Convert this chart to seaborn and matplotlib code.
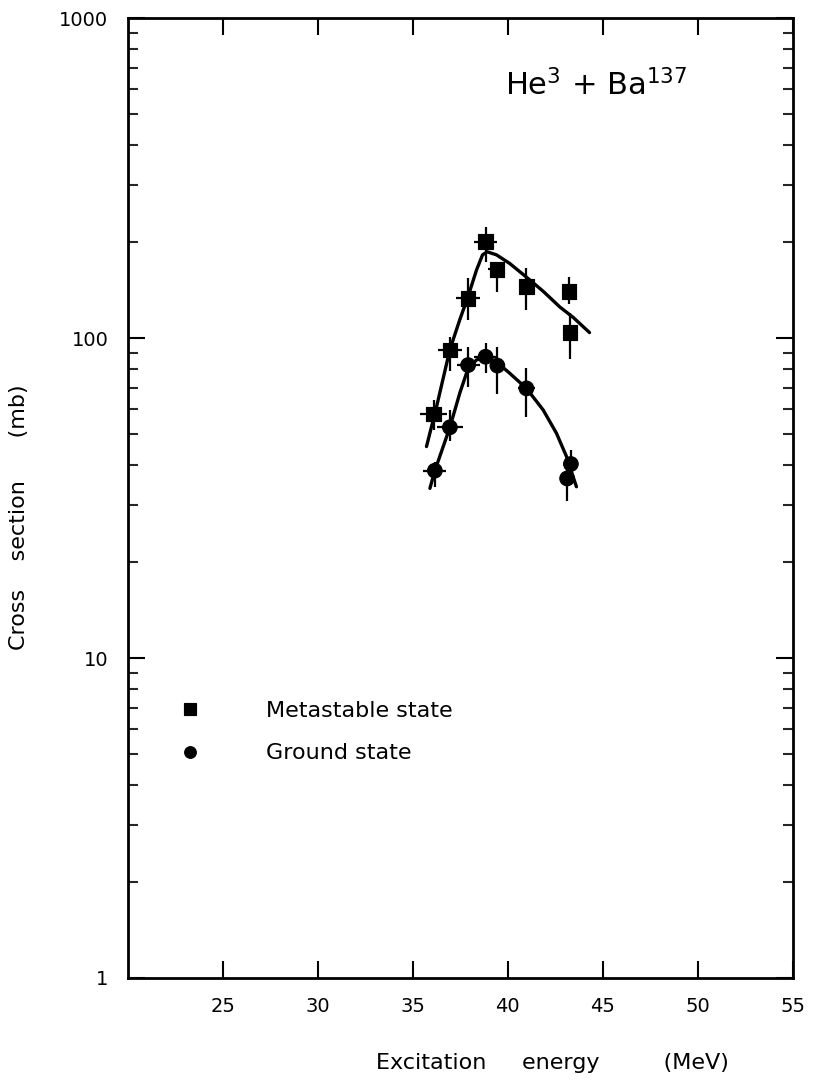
import numpy as np
import pandas as pd
import matplotlib
matplotlib.use("Agg")
import matplotlib.pyplot as plt
import seaborn as sns

meta_x = [36.10, 36.95, 37.91, 38.83, 39.42, 40.98, 43.23, 43.28]
meta_y = [57.8, 91.7, 133, 200, 164, 145, 140, 104]
meta_ylo = [51.6, 79, 114, 173, 139, 122, 128, 86]
meta_yhi = [64, 101, 154, 223, 173, 166, 155, 120]
meta_xerr = [0.7, 0.65, 0.65, 0.6, 0.45, 0.4, 0.0, 0.0]

ground_x = [36.16, 36.95, 37.91, 38.83, 39.45, 40.98, 43.32, 43.12]
ground_y = [38.5, 52.6, 82.3, 87.4, 82, 69.6, 40.4, 36.4]
ground_ylo = [34.3, 47.5, 70.4, 77.5, 67, 56.8, 37.5, 31]
ground_yhi = [41, 59.5, 94, 96.7, 94, 80.4, 44.7, 39]
ground_xerr = [0.6, 0.7, 0.6, 0.6, 0.3, 0.45, 0.0, 0.0]

# hand-drawn curves through the data
meta_curve_x = [35.72, 36.25, 36.95, 37.47, 37.91, 38.35, 38.67, 38.91, 39.4, 40.1, 40.98, 41.86, 42.74, 43.44, 44.3]
meta_curve_y = [45.8, 61, 92, 114, 135, 163, 182, 186, 182, 171, 155, 140, 125, 116, 104]
ground_curve_x = [35.9, 36.16, 36.6, 36.95, 37.47, 37.91, 38.35, 38.84, 39.4, 40.1, 40.98, 41.86, 42.56, 43.09, 43.61]
ground_curve_y = [33.9, 38.5, 45.8, 52.6, 67.2, 80.4, 85.4, 87.4, 84.3, 77.6, 69.6, 59.6, 50.4, 42.6, 34.3]

labels = ["Metastable state", "Ground state"]
x_ticks = [25, 30, 35, 40, 45, 50, 55]
y_ticks = [1, 10, 100, 1000]

sns.set_style("ticks")
plt.rcParams['font.family'] = ['DejaVu Sans']
plt.rcParams['text.color'] = 'black'
plt.rcParams['axes.labelcolor'] = 'black'

fig = plt.figure(figsize=(8.14, 10.81), dpi=100)
ax = fig.add_axes([0.157, 0.0953, 0.817, 0.888])

df = pd.DataFrame({
    "energy": meta_x + ground_x,
    "sigma": meta_y + ground_y,
    "state": [labels[0]] * len(meta_x) + [labels[1]] * len(ground_x),
})

sns.lineplot(x=meta_curve_x, y=meta_curve_y, color="black", lw=2.4, ax=ax, sort=False)
sns.lineplot(x=ground_curve_x, y=ground_curve_y, color="black", lw=2.4, ax=ax, sort=False)

for xs, ys, lo, hi, xe in [(meta_x, meta_y, meta_ylo, meta_yhi, meta_xerr),
                           (ground_x, ground_y, ground_ylo, ground_yhi, ground_xerr)]:
    ys = np.array(ys)
    yerr = [ys - np.array(lo), np.array(hi) - ys]
    ax.errorbar(xs, ys, yerr=yerr, xerr=xe, fmt="none", ecolor="black",
                elinewidth=1.6, capsize=0)

sns.scatterplot(data=df, x="energy", y="sigma", style="state",
                markers={labels[0]: "s", labels[1]: "o"}, color="black",
                s=110, edgecolor="black", ax=ax, zorder=5)

ax.set_yscale("log")
ax.set_xlim(20, 55)
ax.set_ylim(1, 1000)
ax.set_xticks(x_ticks)
ax.set_xticklabels([str(t) for t in x_ticks])
ax.set_yticks(y_ticks)
ax.set_yticklabels([str(t) for t in y_ticks])

for s in ax.spines.values():
    s.set_linewidth(2)
    s.set_color("black")

ax.tick_params(axis="both", which="major", direction="in", length=12, width=1.5,
               top=True, right=True, labelsize=14, colors="black")
ax.tick_params(axis="x", which="major", pad=14)
ax.tick_params(axis="y", which="major", pad=14)
ax.tick_params(axis="y", which="minor", direction="in", length=7, width=1.5,
               left=True, right=True)
ax.tick_params(axis="x", which="minor", bottom=False, top=False)

ax.set_xlabel("Excitation     energy         (MeV)", fontsize=16)
ax.xaxis.set_label_coords(0.638, -0.078)
ax.set_ylabel("Cross    section      (mb)", fontsize=16)
ax.yaxis.set_label_coords(-0.148, 0.48)

ax.text(0.567, 0.93, r"He$^3$ + Ba$^{137}$", transform=ax.transAxes,
        fontsize=22, ha="left", va="center")

leg = ax.legend(loc="center left", bbox_to_anchor=(0.03, 0.256), frameon=False,
                fontsize=16, handletextpad=2.4, labelspacing=1.0, markerscale=0.8)

fig.savefig("out.png", dpi=100, facecolor="white")
